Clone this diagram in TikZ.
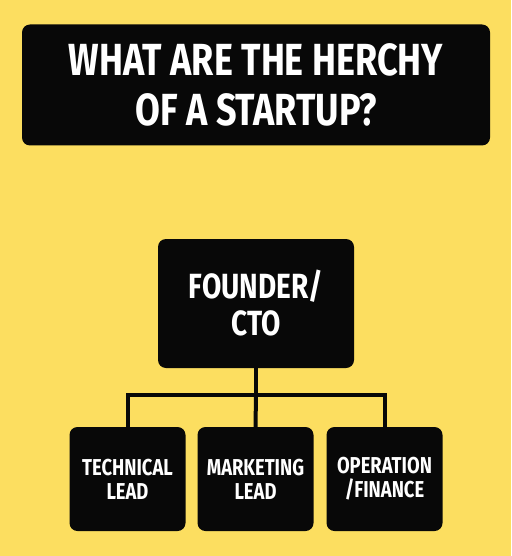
\documentclass[tikz,border=0pt]{standalone}
\usepackage{fontspec}
\setmainfont{Fira Sans}
\newfontfamily\headfont{Fira Sans Bold}[FakeStretch=0.8]
\definecolor{startupyellow}{RGB}{252,222,96}
\definecolor{boxblack}{RGB}{8,8,8}
\begin{document}
\begin{tikzpicture}[x=1pt,y=-1pt,
  box/.style={fill=boxblack, rounded corners=8pt, text=white, align=center, inner sep=0pt},
  link/.style={draw=boxblack, line width=4pt}]
\def\canvas{(0,0) rectangle (511,556)}
\fill[startupyellow] \canvas;
\useasboundingbox \canvas;
% heading
\node[box, minimum width=468pt, minimum height=121pt,
      font=\headfont\fontsize{45}{50}\selectfont] (title) at (256,85)
      {WHAT ARE THE HERCHY\\OF A STARTUP?};
% top of the tree
\node[box, minimum width=196pt, minimum height=129pt,
      font=\headfont\fontsize{35}{37}\selectfont] (founder) at (256,303.5)
      {FOUNDER/\\CTO};
% the three leads
    \begin{scope}[every node/.style={box, minimum width=116pt, minimum height=104pt,
                  font=\headfont\fontsize{23}{24}\selectfont}]
\node (tech) at (127.5,479) {TECHNICAL\\LEAD};
\node (mark) at (255.5,479) {MARKETING\\LEAD};
\node (ops)  at (384.5,479) {OPERATION\\/FINANCE};
    \end{scope}
\coordinate (bus) at (256,395);
\draw[link] (founder.south) -- (bus);
\draw[link] (tech.north) |- (bus) -| (ops.north);
\draw[link] (bus) -- (mark.north);
\end{tikzpicture}
\end{document}
